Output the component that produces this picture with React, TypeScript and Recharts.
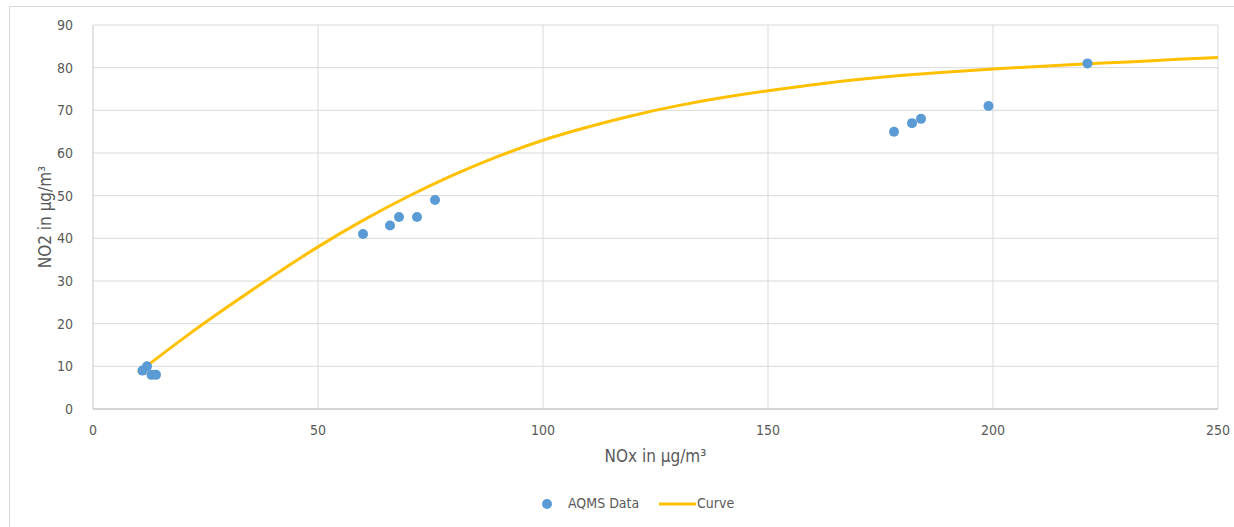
import React from 'react';
import { ComposedChart, Scatter, Line, XAxis, YAxis, CartesianGrid, Legend } from 'recharts';

// measured station data
const aqmsNox = [11, 12, 13, 14, 60, 66, 68, 72, 76, 178, 182, 184, 199, 221];
const aqmsNo2 = [9, 10, 8, 8, 41, 43, 45, 45, 49, 65, 67, 68, 71, 81];

// fitted curve
const curveNox = [10, 20, 30, 40, 50, 60, 70, 80, 90, 100, 110, 120, 130, 140, 150, 160, 170, 180, 190, 200, 210, 220, 230, 240, 250];
const curveNo2 = [8.5, 16.5, 24, 31.2, 38, 44.2, 49.8, 54.8, 59.2, 63, 66.1, 68.8, 71.1, 73, 74.6, 76, 77.2, 78.2, 79, 79.7, 80.3, 80.85, 81.35, 81.9, 82.4];

const xTicks = [0, 50, 100, 150, 200, 250];
const yTicks = [0, 10, 20, 30, 40, 50, 60, 70, 80, 90];

const points = aqmsNox.map((x, i) => ({ x, y: aqmsNo2[i] }));
const curve = curveNox.map((x, i) => ({ x, y: curveNo2[i] }));

const font = "'Liberation Sans Narrow', 'DejaVu Sans Condensed', Roboto, sans-serif";
const textColor = '#595959';

const renderLegend = () => (
  <div style={{ position: 'relative', width: 1234, height: 24, fontFamily: font, fontSize: 14, color: textColor }}>
    <svg width={12} height={12} style={{ position: 'absolute', left: 541, top: 6 }}>
      <circle cx={6} cy={6} r={5} fill="#5b9bd5" />
    </svg>
    <span style={{ position: 'absolute', left: 568, top: 3 }}>AQMS Data</span>
    <svg width={37} height={6} style={{ position: 'absolute', left: 659, top: 9 }}>
      <line x1={0} y1={3} x2={37} y2={3} stroke="#ffc000" strokeWidth={3} />
    </svg>
    <span style={{ position: 'absolute', left: 697, top: 3 }}>Curve</span>
  </div>
);

const App = () => {
  return (
    <div style={{ position: 'absolute', left: 0, top: 0, width: 1234, height: 527, overflow: 'hidden', background: '#fff' }}>
      <div style={{ position: 'absolute', left: 9, top: 6, width: 1240, height: 540, border: '1px solid #d9d9d9', boxSizing: 'border-box' }} />
      <div style={{ position: 'absolute', left: 0, top: 0 }}>
        <ComposedChart
          width={1234}
          height={527}
          margin={{ top: 25, right: 16, left: 0, bottom: 11 }}
          style={{ fontFamily: font }}
        >
          <CartesianGrid stroke="#d9d9d9" strokeWidth={1} />
          <XAxis
            type="number"
            dataKey="x"
            domain={[0, 250]}
            ticks={xTicks}
            interval={0}
            height={83}
            tickLine={false}
            axisLine={{ stroke: '#bfbfbf' }}
            tick={{ fill: textColor, fontSize: 14 }}
            tickMargin={10}
            allowDataOverflow
            label={{
              content: (props: any) => {
                const vb = props.viewBox;
                return (
                  <text x={vb.x + vb.width / 2} y={vb.y + 47} textAnchor="middle" dominantBaseline="central" fill={textColor} fontSize={17} fontFamily={font}>
                    NOx in µg/m³
                  </text>
                );
              },
            }}
          />
          <YAxis
            type="number"
            dataKey="y"
            domain={[0, 90]}
            ticks={yTicks}
            interval={0}
            width={93}
            tickLine={false}
            axisLine={{ stroke: '#d9d9d9' }}
            tick={{ fill: textColor, fontSize: 14 }}
            tickMargin={14}
            allowDataOverflow
            label={{
              content: (props: any) => {
                const vb = props.viewBox;
                const cy = vb.y + vb.height / 2;
                return (
                  <text x={45} y={cy} textAnchor="middle" dominantBaseline="central" fill={textColor} fontSize={17} fontFamily={font} transform={`rotate(-90, 45, ${cy})`}>
                    NO2 in µg/m³
                  </text>
                );
              },
            }}
          />
          <Legend verticalAlign="bottom" height={24} content={renderLegend} />
          <Line
            data={curve}
            dataKey="y"
            name="Curve"
            type="natural"
            stroke="#ffc000"
            strokeWidth={3}
            dot={false}
            activeDot={false}
            isAnimationActive={false}
          />
          <Scatter
            data={points}
            dataKey="y"
            name="AQMS Data"
            fill="#5b9bd5"
            isAnimationActive={false}
            shape={(p: any) => <circle cx={p.cx} cy={p.cy} r={5} fill="#5b9bd5" />}
          />
        </ComposedChart>
      </div>
    </div>
  );
};

export default App;
